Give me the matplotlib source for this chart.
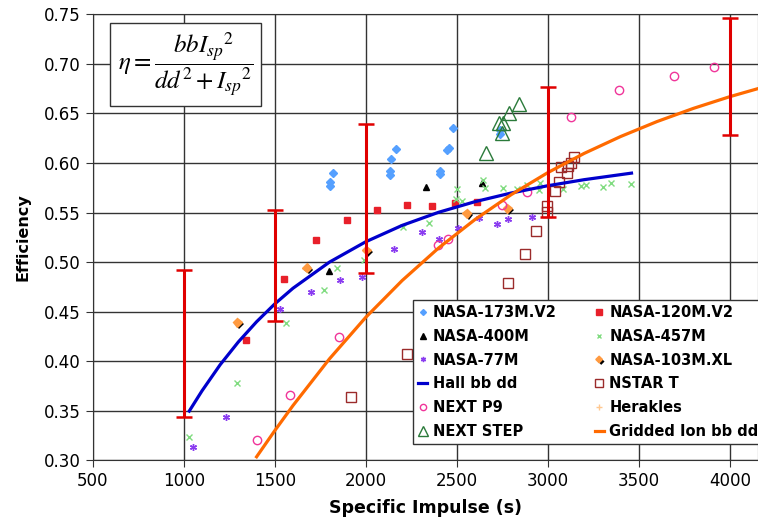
import matplotlib
matplotlib.use("Agg")
import matplotlib.pyplot as plt
import matplotlib.patheffects as pe

# --- dados medidos por propulsor (Isp [s], eficiência) ---
nasa_173m_isp = [1803, 1803, 1821, 2131, 2134, 2140, 2164, 2408, 2408, 2444, 2459, 2481, 2737, 2737]
nasa_173m_eff = [0.577, 0.581, 0.590, 0.588, 0.592, 0.604, 0.614, 0.589, 0.592, 0.613, 0.615, 0.635, 0.629, 0.633]

nasa_120m_isp = [1340, 1550, 1728, 1897, 2060, 2225, 2364, 2490, 2613]
nasa_120m_eff = [0.4215, 0.483, 0.522, 0.5425, 0.5525, 0.5577, 0.5567, 0.560, 0.561]

nasa_400m_isp = [1800, 2331, 2637]
nasa_400m_eff = [0.491, 0.576, 0.580]

nasa_457m_isp = [1027, 1292, 1563, 1769, 1841, 1990, 2206, 2349, 2496, 2503, 2530, 2646,
                 2655, 2756, 2829, 2888, 2953, 2957, 3082, 3181, 3210, 3302, 3349, 3455]
nasa_457m_eff = [0.324, 0.3785, 0.439, 0.472, 0.494, 0.502, 0.535, 0.539, 0.564, 0.5735, 0.5617, 0.583,
                 0.5745, 0.5745, 0.5735, 0.578, 0.5728, 0.5795, 0.5738, 0.5768, 0.5775, 0.5761, 0.580, 0.5792]

nasa_77m_isp = [1052, 1230, 1528, 1697, 1860, 1981, 2155, 2308, 2404, 2508, 2622, 2723, 2783, 2912]
nasa_77m_eff = [0.314, 0.3436, 0.4527, 0.470, 0.482, 0.4854, 0.5136, 0.5307, 0.5234, 0.534, 0.5449,
                0.5385, 0.5432, 0.5453]

nasa_103m_isp = [1294, 1675, 2002, 2554, 2777]
nasa_103m_eff = [0.4394, 0.4944, 0.5122, 0.5493, 0.5545]

nstar_isp = [1917, 2225, 2780, 2875, 2937, 2996, 2996, 3040, 3063, 3074, 3104, 3109, 3127, 3144]
nstar_eff = [0.3637, 0.4071, 0.479, 0.5083, 0.5318, 0.5509, 0.5567, 0.5718, 0.5809, 0.5957,
             0.5896, 0.597, 0.5997, 0.6058]

next_p9_isp = [1400, 1583, 1853, 2398, 2450, 2746, 2884, 3126, 3391, 3693, 3912]
next_p9_eff = [0.3204, 0.366, 0.4249, 0.5173, 0.523, 0.5575, 0.5711, 0.6461, 0.6735, 0.6878, 0.6965]

herakles_isp = []
herakles_eff = []

next_step_isp = [2660, 2730, 2746, 2756, 2785, 2840]
next_step_eff = [0.610, 0.640, 0.630, 0.640, 0.650, 0.660]

# --- curvas de ajuste bb/dd ---
hall_isp = [1030, 1100, 1200, 1300, 1400, 1500, 1600, 1800, 2000, 2200, 2400, 2600, 2800, 3000, 3200, 3460]
hall_eff = [0.3498, 0.3702, 0.3966, 0.4196, 0.4399, 0.4579, 0.4737, 0.5000, 0.5206, 0.5371, 0.5503,
            0.5610, 0.5698, 0.5771, 0.5832, 0.5898]

ion_isp = [1400, 1500, 1600, 1800, 2000, 2200, 2400, 2600, 2800, 3000, 3200, 3400, 3600, 3800, 4000, 4200]
ion_eff = [0.3037, 0.3301, 0.3554, 0.4024, 0.4444, 0.4815, 0.5143, 0.5430, 0.5682, 0.5903, 0.6097,
           0.6267, 0.6418, 0.6551, 0.6669, 0.6774]

# --- faixas de incerteza ---
faixa_isp = [1000, 1500, 2000, 3000, 4000]
faixa_min = [0.344, 0.441, 0.489, 0.546, 0.628]
faixa_max = [0.492, 0.553, 0.639, 0.677, 0.746]

fig = plt.figure(figsize=(7.58, 5.25), dpi=100)
ax = fig.add_axes([0.1224, 0.1229, 0.8776, 0.8499])

h = {}
h["173"], = ax.plot(nasa_173m_isp, nasa_173m_eff, "D", color="#55a0ff", ms=4, label="NASA-173M.V2", zorder=3)
h["120"], = ax.plot(nasa_120m_isp, nasa_120m_eff, "s", color="#e8202a", ms=5, label="NASA-120M.V2", zorder=3)
h["400"], = ax.plot(nasa_400m_isp, nasa_400m_eff, "^", color="black", ms=5, label="NASA-400M", zorder=3)
h["457"], = ax.plot(nasa_457m_isp, nasa_457m_eff, "x", color="#80dc80", ms=4, mew=1, label="NASA-457M", zorder=3)
h["77"], = ax.plot(nasa_77m_isp, nasa_77m_eff, marker=(6, 2, 0), ls="none", color="#8a3cf0", ms=5, mew=1,
                   label="NASA-77M", zorder=3)
h["103"], = ax.plot(nasa_103m_isp, nasa_103m_eff, "D", color="#ff9a40", ms=4.5, label="NASA-103M.XL", zorder=3,
                    path_effects=[pe.SimplePatchShadow(offset=(1.5, -1.5), shadow_rgbFace="black", alpha=1.0),
                                  pe.Normal()])
h["hall"], = ax.plot(hall_isp, hall_eff, "-", color="#0000cc", lw=2.3, label="Hall bb dd", zorder=4)
h["nstar"], = ax.plot(nstar_isp, nstar_eff, "s", mfc="none", mec="#9b2b2b", ms=7, mew=1, label="NSTAR T", zorder=3)
h["p9"], = ax.plot(next_p9_isp, next_p9_eff, "o", mfc="none", mec="#f0359a", ms=6, mew=1, label="NEXT P9", zorder=3)
h["her"], = ax.plot(herakles_isp, herakles_eff, "+", color="#ffc890", ms=5, label="Herakles", zorder=3)
h["step"], = ax.plot(next_step_isp, next_step_eff, "^", mfc="none", mec="#2a7a3a", ms=10, mew=1,
                     label="NEXT STEP", zorder=3)
h["ion"], = ax.plot(ion_isp, ion_eff, "-", color="#ff6a00", lw=2.3, label="Gridded Ion bb dd", zorder=4)

meio = [(a + b) / 2 for a, b in zip(faixa_min, faixa_max)]
erro = [[m - a for m, a in zip(meio, faixa_min)], [b - m for m, b in zip(meio, faixa_max)]]
ax.errorbar(faixa_isp, meio, yerr=erro, fmt="none", ecolor="#e00000", elinewidth=2.2,
            capsize=5.5, capthick=1.8, zorder=5)

ax.set_xlim(500, 4155)
ax.set_ylim(0.30, 0.75)
ax.set_xticks(range(500, 4001, 500))
ax.set_yticks([0.30 + 0.05 * i for i in range(10)])
ax.set_yticklabels([f"{0.30 + 0.05 * i:.2f}" for i in range(10)])
ax.tick_params(labelsize=12, direction="out", length=5, color="#333333")
ax.grid(True, color="#333333", linewidth=1.0)
ax.set_axisbelow(True)
for s in ax.spines.values():
    s.set_color("#333333")

ax.set_xlabel("Specific Impulse (s)", fontsize=12.5, fontweight="bold", labelpad=6)
ax.set_ylabel("Efficiency", fontsize=11.5, fontweight="bold", labelpad=10)

ax.text(0.1398, 0.887,
        r"$\eta = \dfrac{bb{I_{sp}}^{2}}{dd^{2} + {I_{sp}}^{2}}$",
        transform=ax.transAxes, ha="center", va="center", fontsize=18,
        math_fontfamily="stix",
        bbox=dict(boxstyle="square,pad=0.3", fc="white", ec="#333333", lw=1.0),
        zorder=6)

# legenda preenchida por colunas -> ordenar para ler por linhas
ordem = ["173", "400", "77", "hall", "p9", "step",
         "120", "457", "103", "nstar", "her", "ion"]
leg = ax.legend([h[k] for k in ordem], [h[k].get_label() for k in ordem],
                ncol=2, loc="upper left", bbox_to_anchor=(0.4818, 0.3597),
                borderaxespad=0, prop={"weight": "bold", "size": 10.5}, markerscale=0.75,
                handlelength=0.6, handletextpad=0.4, columnspacing=2.6, labelspacing=0.6,
                borderpad=0.35, fancybox=False, framealpha=1.0, edgecolor="#333333")
leg.get_frame().set_linewidth(1.0)
leg.set_zorder(7)

fig.savefig("out.png", facecolor="white")
